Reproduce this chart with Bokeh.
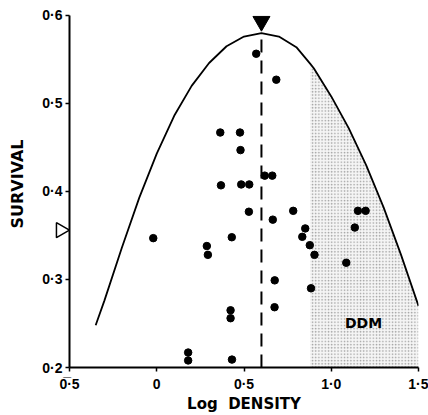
import math
from bokeh.plotting import figure
from bokeh.models import FixedTicker, Range1d
from bokeh.embed import file_html
from bokeh.resources import INLINE
from bokeh.core.properties import value

# ---- data ----
log_density = [0.570, 0.685, 0.364, 0.477, 0.480, 0.619, 0.662, 0.368, 0.484, 0.530,
               0.528, 0.782, 1.153, 1.197, 0.665, 0.851, 1.135, -0.020, 0.430, 0.834,
               0.877, 0.287, 0.293, 0.904, 1.086, 0.676, 0.884, 0.675, 0.423, 0.423,
               0.180, 0.180, 0.431]
survival = [0.5565, 0.527, 0.467, 0.467, 0.447, 0.418, 0.418, 0.407, 0.408, 0.408,
            0.377, 0.378, 0.378, 0.378, 0.368, 0.358, 0.359, 0.347, 0.348, 0.3485,
            0.339, 0.338, 0.328, 0.328, 0.319, 0.299, 0.290, 0.2685, 0.265, 0.256,
            0.217, 0.208, 0.209]

curve_x = [-0.35, -0.3, -0.2, -0.1, 0.0, 0.1, 0.2, 0.3, 0.4, 0.5, 0.6, 0.7,
           0.8, 0.88, 0.9, 1.0, 1.1, 1.2, 1.3, 1.4, 1.5]
curve_y = [0.248, 0.276, 0.336, 0.393, 0.443, 0.486, 0.520, 0.546, 0.565, 0.576,
           0.580, 0.576, 0.564, 0.545, 0.540, 0.508, 0.472, 0.430, 0.382, 0.328, 0.270]

ddm_start = 0.88          # left edge of the density-dependent-mortality zone
mean_density = 0.6        # filled triangle / dashed line
mean_survival = 0.356     # open triangle on the survival axis
peak_survival = 0.58

x_ticks = [-0.5, 0.0, 0.5, 1.0, 1.5]
x_tick_labels = ["0\u0305·5", "0", "0·5", "1·0", "1·5"]
y_ticks = [0.2, 0.3, 0.4, 0.5, 0.6]
y_tick_labels = ["0·2", "0·3", "0·4", "0·5", "0·6"]

# ---- figure ----
p = figure(width=428, height=415, x_range=Range1d(-0.5, 1.5), y_range=Range1d(0.2, 0.617),
           output_backend="svg", toolbar_location=None,
           min_border_left=69, min_border_right=10, min_border_top=0, min_border_bottom=48)
p.outline_line_color = None
p.grid.visible = False
p.background_fill_color = "white"
p.border_fill_color = "white"

# shaded DDM zone
ddm_x = [ddm_start] + [x for x in curve_x if x > ddm_start] + [curve_x[-1], ddm_start]
ddm_y = [curve_y[curve_x.index(ddm_start)]] + \
        [y for x, y in zip(curve_x, curve_y) if x > ddm_start] + [0.2, 0.2]
p.patch(ddm_x, ddm_y, fill_color="#f5f5f5", line_color=None,
        hatch_pattern="dot", hatch_color="#a0a0a0", hatch_scale=3.2, hatch_weight=1)

# fitted curve
p.line(curve_x, curve_y, line_color="black", line_width=1.8)

# dashed line at mean density
p.segment(x0=[mean_density], y0=[0.2], x1=[mean_density], y1=[peak_survival],
          line_color="black", line_width=2, line_dash="13 8")

# points
p.scatter(log_density, survival, size=7.5, color="black")

# markers for means
p.scatter([mean_density], [0.5933], marker="inverted_triangle", size=17,
          fill_color="black", line_color="black")
r = p.scatter([-0.55], [mean_survival], marker="triangle", angle=-math.pi / 2, size=15,
              fill_color="white", line_color="black", line_width=1.5)
r.level = "overlay"

p.text(x=[1.185], y=[0.251], text=["DDM"], text_align="center", text_baseline="middle",
       text_font=value("DejaVu Sans"), text_font_style="bold", text_font_size="14px",
       text_color="black")

# axes
for ax in (p.xaxis[0], p.yaxis[0]):
    ax.axis_line_width = 2
    ax.axis_line_color = "black"
    ax.major_tick_line_width = 1.5
    ax.major_tick_in = 0
    ax.minor_tick_line_color = None
    ax.major_label_text_font = "Liberation Sans"
    ax.major_label_text_font_style = "bold"
    ax.major_label_text_font_size = "14px"
    ax.major_label_text_color = "black"
    ax.axis_label_text_font = "DejaVu Sans"
    ax.axis_label_text_font_style = "bold"
    ax.axis_label_text_font_size = "15px"
    ax.axis_label_text_color = "black"

xa = p.xaxis[0]
xa.ticker = FixedTicker(ticks=x_ticks, minor_ticks=[])
xa.major_label_overrides = dict(zip(x_ticks, x_tick_labels))
xa.major_tick_out = 4
xa.major_label_standoff = 4
xa.axis_label = "Log\u00a0\u00a0DENSITY"
xa.axis_label_standoff = 0
xa.bounds = (-0.5, 1.5)

ya = p.yaxis[0]
ya.ticker = FixedTicker(ticks=y_ticks, minor_ticks=[])
ya.major_label_overrides = dict(zip(y_ticks, y_tick_labels))
ya.major_tick_out = 4
ya.major_label_standoff = 3
ya.axis_label = "SURVIVAL"
ya.axis_label_text_font_size = "16px"
ya.axis_label_standoff = 12
ya.bounds = (0.2, 0.6)

open("out.html", "w").write(file_html(p, INLINE))
